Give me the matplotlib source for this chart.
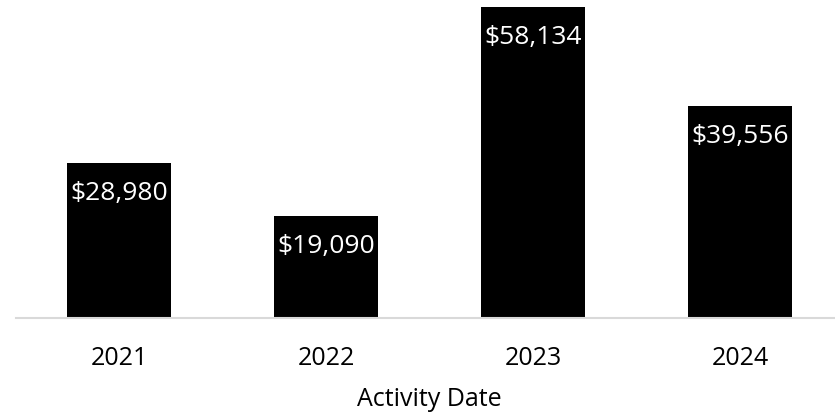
import matplotlib.pyplot as plt

years = ["2021", "2022", "2023", "2024"]
totals = [28980, 19090, 58134, 39556]

plt.rcParams['font.family'] = ['Open Sans', 'DejaVu Sans']

fig = plt.figure(figsize=(8.35, 4.15), dpi=100)
ax = fig.add_axes([15.5 / 835, 97 / 415, 828 / 835, 321 / 415])

pos = range(len(years))
bars = ax.bar(pos, totals, width=0.5, color="black")

for b, v in zip(bars, totals):
    ax.annotate(f"${v:,}", (b.get_x() + b.get_width() / 2, v),
                xytext=(0, -22), textcoords="offset points",
                ha="center", va="center", color="white", fontsize=19)

ax.set_xlim(-0.5, len(years) - 0.5)
ax.set_ylim(0, 60000)
ax.set_xticks(list(pos))
ax.set_xticklabels(years, fontsize=18)
ax.tick_params(axis="x", length=0, pad=20)
ax.set_yticks([])
for s in ["top", "left", "right"]:
    ax.spines[s].set_visible(False)
ax.spines["bottom"].set_color("#d9d9d9")
ax.spines["bottom"].set_linewidth(1.5)
ax.set_xlabel("Activity Date", fontsize=18, labelpad=12)

fig.savefig("out.png", dpi=100)
